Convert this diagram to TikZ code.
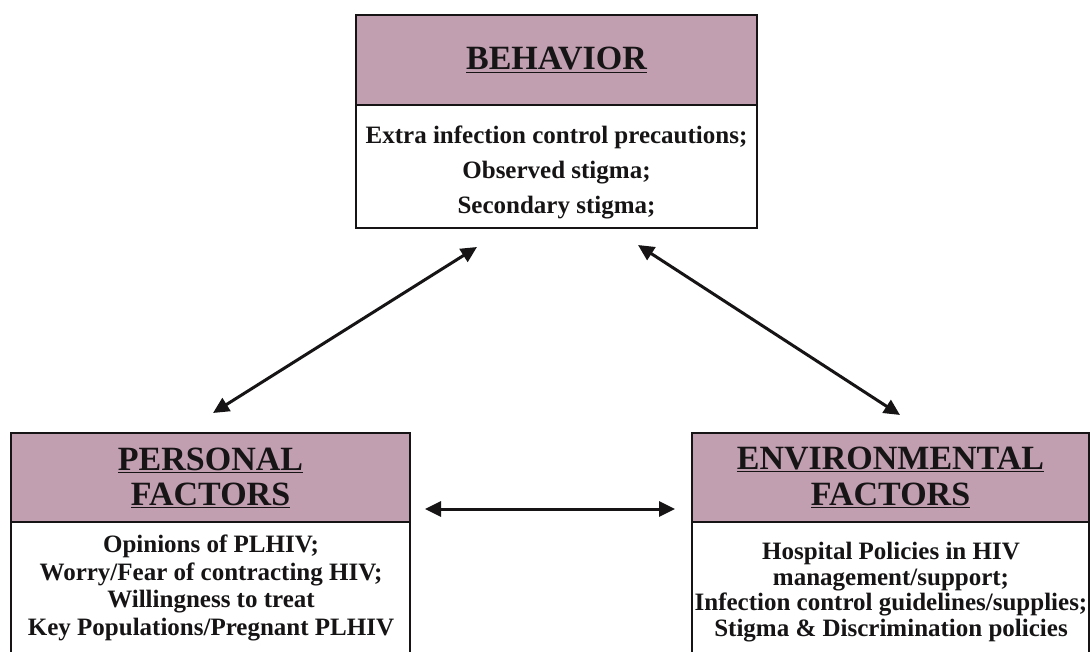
\documentclass[tikz,border=0pt]{standalone}
\usepackage{fontspec}
\setmainfont{Liberation Serif}
\usetikzlibrary{arrows.meta}
\definecolor{mauve}{RGB}{193,158,176}
\definecolor{ink}{RGB}{22,20,21}
\begin{document}
\begin{tikzpicture}[x=1pt,y=-1pt,
  box/.style={draw=ink, line width=2.9pt, rectangle, inner sep=0pt},
  head/.style={box, fill=mauve, font=\bfseries\fontsize{34}{36}\selectfont, text=ink, align=center},
  body/.style={box, fill=white},
  txt/.style={font=\bfseries\fontsize{25}{28}\selectfont, text=ink, align=center, inner sep=0pt},
  arr/.style={{Triangle[length=16pt,width=15pt]}-{Triangle[length=16pt,width=15pt]}, line width=3pt, draw=ink}]
\useasboundingbox (0,0) rectangle (1090,652);
\clip (0,0) rectangle (1090,652);
\fill[white] (0,0) rectangle (1090,652);
% Behavior
\node[head, minimum width=401pt, minimum height=90pt] (bh) at (556.5,60) {\underline{BEHAVIOR}};
\node[body, minimum width=401pt, minimum height=123pt] (bb) at (556.5,166.5) {};
\node[txt, font=\bfseries\fontsize{25}{35}\selectfont] (bt) at (556.5,172) {Extra infection control precautions;\\Observed stigma;\\Secondary stigma;};
% Personal
\node[head, font=\bfseries\fontsize{34}{35}\selectfont, minimum width=399pt, minimum height=89pt] (ph) at (210.5,477.5) {\underline{PERSONAL}\\\underline{FACTORS}};
\node[body, minimum width=399pt, minimum height=148pt] (pb) at (210.5,596) {};
\node[txt, font=\bfseries\fontsize{25}{27.5}\selectfont] (pt) at (211,588) {Opinions of PLHIV;\\Worry/Fear of contracting HIV;\\Willingness to treat\\Key Populations/Pregnant PLHIV};
% Environmental
\node[head, font=\bfseries\fontsize{34}{36}\selectfont, minimum width=397pt, minimum height=89pt] (eh) at (890.5,477.5) {\underline{ENVIRONMENTAL}\\\underline{FACTORS}};
\node[body, minimum width=397pt, minimum height=148pt] (eb) at (890.5,596) {};
\node[txt, font=\bfseries\fontsize{25}{25.5}\selectfont] (et) at (891,592) {Hospital Policies in HIV\\management/support;\\Infection control guidelines/supplies;\\Stigma \& Discrimination policies};
% Arrows
\coordinate (a1s) at (213,413);
\coordinate (a1e) at (477,247);
\coordinate (a2s) at (638,245);
\coordinate (a2e) at (900,415);
\coordinate (a3s) at (425,509);
\coordinate (a3e) at (675,509);
\draw[arr] (a1s) -- (a1e);
\draw[arr] (a2s) -- (a2e);
\draw[arr] (a3s) -- (a3e);
\end{tikzpicture}
\end{document}
